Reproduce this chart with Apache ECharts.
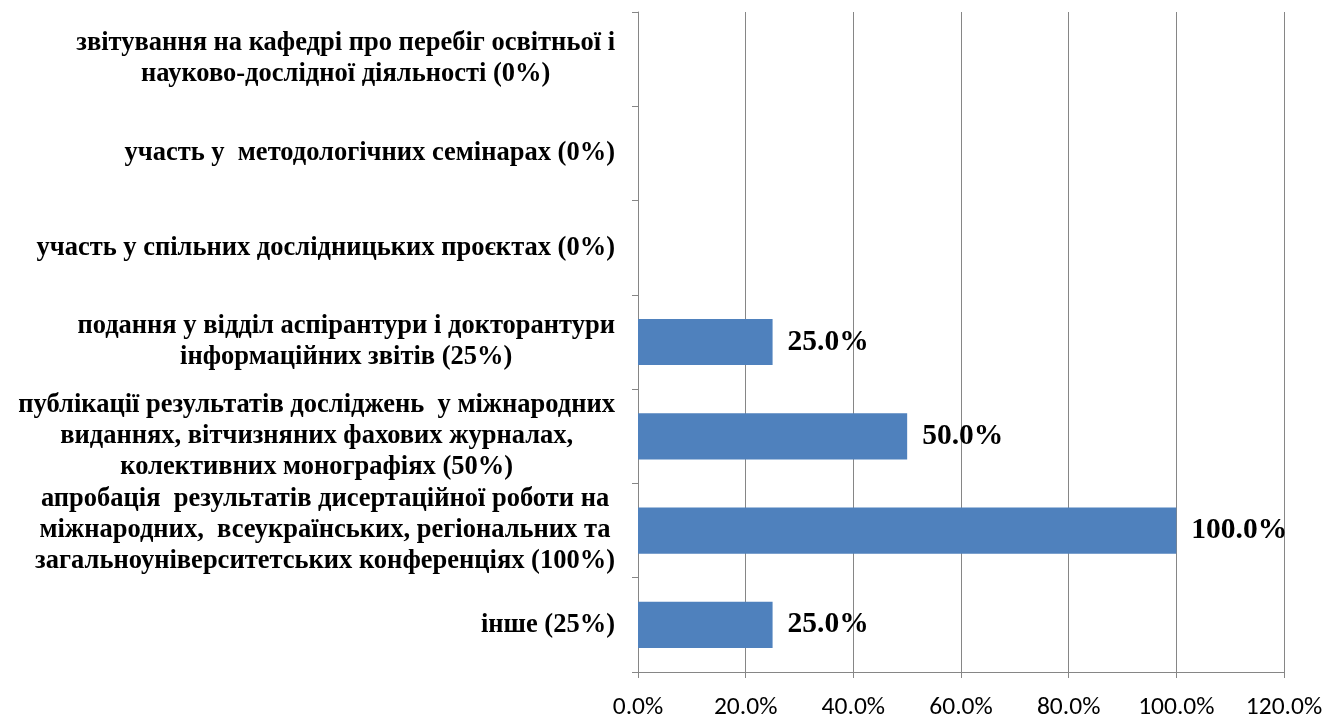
<!DOCTYPE html>
<html>
<head>
<meta charset="utf-8">
<script src="https://cdn.jsdelivr.net/npm/echarts@6/dist/echarts.min.js"></script>
<style>
html,body{margin:0;padding:0;background:#fff;}
#chart{width:1330px;height:717px;}
</style>
</head>
<body>
<div id="chart"></div>
<script>
// Categories from top to bottom (each line of a label separated by \n)
const categories = [
  'звітування на кафедрі про перебіг освітньої і\nнауково-дослідної діяльності (0%)',
  'участь у  методологічних семінарах (0%)',
  'участь у спільних дослідницьких проєктах (0%)',
  'подання у відділ аспірантури і докторантури\nінформаційних звітів (25%)',
  'публікації результатів досліджень  у міжнародних\nвиданнях, вітчизняних фахових журналах,\nколективних монографіях (50%)',
  'апробація  результатів дисертаційної роботи на\nміжнародних,  всеукраїнських, регіональних та\nзагальноуніверситетських конференціях (100%)',
  'інше (25%)'
];
const values = [0, 0, 0, 25, 50, 100, 25];
const axisMax = 120;
const axisStep = 20;

const chart = echarts.init(document.getElementById('chart'), null, {renderer: 'canvas'});
chart.setOption({
  animation: false,
  backgroundColor: '#ffffff',
  grid: {left: 638, right: 46, top: 12, bottom: 45, containLabel: false, outerBoundsMode: 'none'},
  xAxis: {
    type: 'value',
    min: 0, max: axisMax, interval: axisStep,
    axisLine: {show: true, lineStyle: {color: '#868686', width: 1}},
    axisTick: {show: true, length: 6, lineStyle: {color: '#868686'}},
    splitLine: {show: true, lineStyle: {color: '#868686', width: 1}},
    axisLabel: {
      margin: 23,
      fontFamily: 'Carlito, Liberation Sans',
      fontSize: 25.5,
      color: '#000',
      formatter: v => v.toFixed(1) + '%'
    }
  },
  yAxis: {
    type: 'category',
    data: categories,
    inverse: true,
    axisLine: {show: true, lineStyle: {color: '#868686', width: 1}},
    axisTick: {show: true, length: 6, alignWithLabel: false, lineStyle: {color: '#868686'}},
    splitLine: {show: false},
    axisLabel: {
      margin: 23,
      interval: 0,
      formatter: v => v.split('\n').map(l => '{c|' + l + '}').join('\n'),
      rich: {
        c: {
          align: 'center',
          fontFamily: 'Liberation Serif',
          fontWeight: 'bold',
          fontSize: 26.5,
          lineHeight: 31,
          color: '#000'
        }
      }
    }
  },
  series: [{
    type: 'bar',
    data: values,
    barWidth: '49%',
    itemStyle: {color: '#4F81BD'},
    label: {
      show: true,
      position: 'right',
      distance: 15,
      fontFamily: 'Liberation Serif',
      fontWeight: 'bold',
      fontSize: 29.5,
      color: '#000',
      formatter: p => p.value > 0 ? p.value.toFixed(1) + '%' : ''
    }
  }]
});
</script>
</body>
</html>
